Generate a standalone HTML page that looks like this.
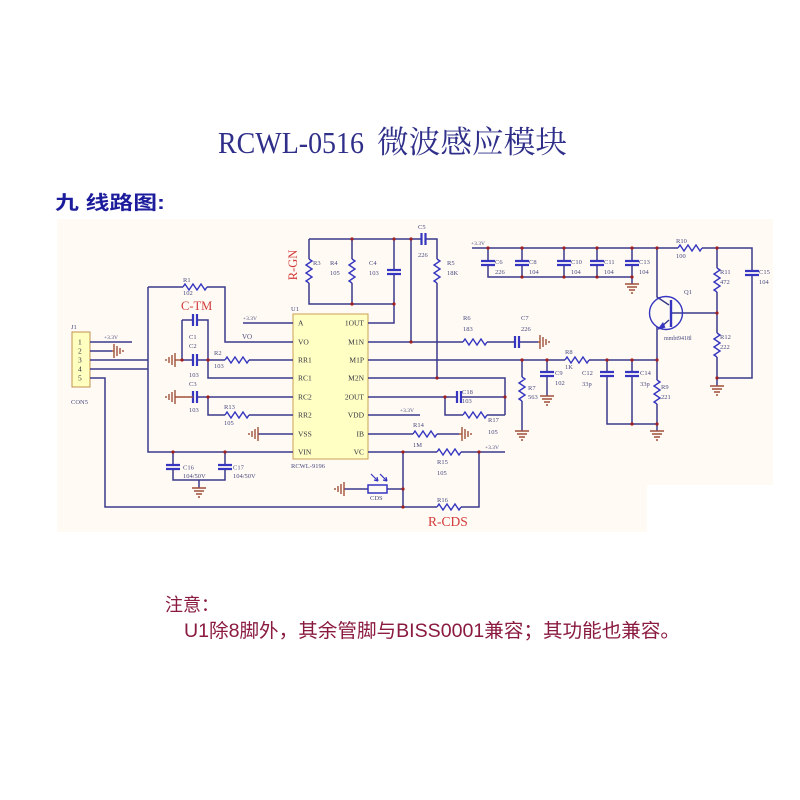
<!DOCTYPE html>
<html><head><meta charset="utf-8">
<style>
html,body{margin:0;padding:0;background:#fff;}
svg{display:block;}
.w{fill:none;stroke:#3a3a8c;stroke-width:1.5;}
.c{fill:none;stroke:#3535c0;stroke-width:1.4;}
.p{fill:none;stroke:#3535c0;stroke-width:2.2;}
.g{fill:none;stroke:#a0503a;stroke-width:1.4;}
.t{font-family:"Liberation Serif",serif;font-size:6.5px;fill:#4a4a80;}
.u{font-family:"Liberation Serif",serif;font-size:7.5px;fill:#333340;}
.r{font-family:"Liberation Serif",serif;fill:#d23a3a;}
</style></head><body>
<svg width="800" height="800" viewBox="0 0 800 800" xmlns="http://www.w3.org/2000/svg">
<defs>
<path id="rz" d="M0 0 l2 -3 l4 6 l4 -6 l4 6 l4 -6 l4 6 l2 -3"/>
<path id="gd" d="M-7 0 H7 M-5 3 H5 M-3 6 H3 M-1 9 H1"/>
</defs>
<rect width="800" height="800" fill="#fff"/>
<path d="M57 219 H773 V485 H647 V532 H57 Z" fill="#fffbf4"/>

<!-- Title -->
<text x="218" y="153" font-family="Liberation Serif, serif" font-size="31" fill="#2f2f8a" textLength="146" lengthAdjust="spacingAndGlyphs">RCWL-0516</text>
<text x="377" y="153" font-family="Liberation Serif, 'Noto Serif CJK SC', serif" font-size="31" fill="#2f2f8a" textLength="190" lengthAdjust="spacingAndGlyphs">微波感应模块</text>
<text x="55" y="209" font-family="Liberation Sans, 'Noto Sans CJK SC', sans-serif" font-size="19" font-weight="bold" fill="#1c1c9c" textLength="110" lengthAdjust="spacingAndGlyphs">九 线路图:</text>

<!-- Notes -->
<text x="165" y="611" font-family="Liberation Sans, 'Noto Sans CJK SC', sans-serif" font-size="18" fill="#8a1a40">注意：</text>
<text x="184" y="637" font-family="Liberation Sans, 'Noto Sans CJK SC', sans-serif" font-size="19" fill="#8a1a40" textLength="496" lengthAdjust="spacingAndGlyphs">U1除8脚外，其余管脚与BISS0001兼容；其功能也兼容。</text>

<!-- J1 -->
<rect x="72" y="332" width="18" height="55" fill="#ffffc0" stroke="#c09050" stroke-width="1"/>
<g class="u" font-size="7">
<text x="78" y="344.5">1</text><text x="78" y="353.5">2</text><text x="78" y="362.5">3</text><text x="78" y="371.5">4</text><text x="78" y="380.5">5</text>
</g>
<text class="t" x="71" y="329">J1</text>
<text class="t" x="71" y="404">CON5</text>

<!-- U1 -->
<rect x="293" y="314" width="75" height="145" fill="#ffffc4" stroke="#c8a050" stroke-width="1"/>
<text class="t" x="291" y="311">U1</text>
<text class="t" x="291" y="468">RCWL-9196</text>
<g class="u">
<text x="298" y="325.5">A</text><text x="298" y="344.5">VO</text><text x="298" y="362.5">RR1</text><text x="298" y="380.5">RC1</text>
<text x="298" y="399.5">RC2</text><text x="298" y="417.5">RR2</text><text x="298" y="436.5">VSS</text><text x="298" y="454.5">VIN</text>
</g>
<g class="u" text-anchor="end">
<text x="364" y="325.5">1OUT</text><text x="364" y="344.5">M1N</text><text x="364" y="362.5">M1P</text><text x="364" y="380.5">M2N</text>
<text x="364" y="399.5">2OUT</text><text x="364" y="417.5">VDD</text><text x="364" y="436.5">IB</text><text x="364" y="454.5">VC</text>
</g>

<!-- Wires -->
<g class="w">
<path d="M90 342 H132"/>
<path d="M90 351 H112"/>
<path d="M90 360 H148"/>
<path d="M90 369 H148"/>
<path d="M90 378 H105 V507 H437"/>
<path d="M461 507 H479 V452"/>
<path d="M148 287 H183 M207 287 H225 V342 H293"/>
<path d="M148 287 V452 H293"/>
<path d="M243 323 H293"/>
<path d="M182 320 H193 M197 320 H208 V378 H293"/>
<path d="M182 320 V360 H193 M197 360 H225 M249 360 H293"/>
<path d="M197 397 H293 M208 397 V415 H225 M249 415 H293"/>
<path d="M258 434 H293"/>
<path d="M173 452 V465 M173 469 V480 H225 V469 M225 465 V452"/>
<path d="M199 480 V488"/>
<path d="M368 323 H394 V274 M394 270 V239"/>
<path d="M309 239 H421.5 M425.5 239 H437 V259 M437 283 V378"/>
<path d="M309 239 V259 M309 283 V304 H394"/>
<path d="M352 239 V259 M352 283 V304"/>
<path d="M411 239 V342"/>
<path d="M368 342 H463 M487 342 H515 M519 342 H538"/>
<path d="M368 360 H565 M589 360 H657"/>
<path d="M522 360 V377 M522 401 V431"/>
<path d="M547 360 V372 M547 376 V396"/>
<path d="M607 360 V372 M607 376 V424 H657"/>
<path d="M632 360 V372 M632 376 V424"/>
<path d="M657 360 V380 M657 404 V431"/>
<path d="M368 378 H505 V415"/>
<path d="M368 397 H457 M461 397 H505"/>
<path d="M445 397 V415 H463 M487 415 H505"/>
<path d="M368 415 H420"/>
<path d="M368 434 H413 M437 434 H459"/>
<path d="M368 452 H437 M461 452 H505"/>
<path d="M403 452 V507"/>
<path d="M344 489 H368 M387 489 H403"/>
<path d="M472 248 H678 M702 248 H752 V271 M752 275 V378 H717"/>
<path d="M488 248 V261 M488 265 V277 H632 V284"/>
<path d="M522 248 V261 M522 265 V277"/>
<path d="M564 248 V261 M564 265 V277"/>
<path d="M597 248 V261 M597 265 V277"/>
<path d="M632 248 V261 M632 265 V277"/>
<path d="M717 248 V268 M717 292 V333 M717 357 V386"/>
<path d="M671 313 H717"/>
<path d="M657 248 V297 L669 305"/>
<path d="M669 320 L660 328 M657 327 V360"/>
</g>

<!-- Q1 -->
<circle cx="666" cy="313" r="16.5" class="c" stroke-width="1.7"/>
<path d="M671 300 V327" stroke="#3535c0" stroke-width="2.4"/>
<path d="M657 330 L663 322 L665.5 327.5 Z" fill="#3535c0"/>

<!-- Capacitors -->
<g class="p">
<path d="M193 314 V326 M197 314 V326"/>
<path d="M193 354 V366 M197 354 V366"/>
<path d="M193 391 V403 M197 391 V403"/>
<path d="M166 465 H180 M166 469 H180"/>
<path d="M218 465 H232 M218 469 H232"/>
<path d="M387 270 H401 M387 274 H401"/>
<path d="M421.5 233 V245 M425.5 233 V245"/>
<path d="M515 336 V348 M519 336 V348"/>
<path d="M540 372 H554 M540 376 H554"/>
<path d="M600 372 H614 M600 376 H614"/>
<path d="M625 372 H639 M625 376 H639"/>
<path d="M457 391 V403 M461 391 V403"/>
<path d="M481 261 H495 M481 265 H495"/>
<path d="M515 261 H529 M515 265 H529"/>
<path d="M557 261 H571 M557 265 H571"/>
<path d="M590 261 H604 M590 265 H604"/>
<path d="M625 261 H639 M625 265 H639"/>
<path d="M745 271 H759 M745 275 H759"/>
</g>

<!-- Resistors -->
<g class="c">
<use href="#rz" transform="translate(183,287)"/>
<use href="#rz" transform="translate(225,360)"/>
<use href="#rz" transform="translate(225,415)"/>
<use href="#rz" transform="translate(413,434)"/>
<use href="#rz" transform="translate(437,452)"/>
<use href="#rz" transform="translate(437,507)"/>
<use href="#rz" transform="translate(463,415)"/>
<use href="#rz" transform="translate(463,342)"/>
<use href="#rz" transform="translate(565,360)"/>
<use href="#rz" transform="translate(678,248)"/>
<use href="#rz" transform="translate(309,259) rotate(90)"/>
<use href="#rz" transform="translate(352,259) rotate(90)"/>
<use href="#rz" transform="translate(437,259) rotate(90)"/>
<use href="#rz" transform="translate(522,377) rotate(90)"/>
<use href="#rz" transform="translate(657,380) rotate(90)"/>
<use href="#rz" transform="translate(717,268) rotate(90)"/>
<use href="#rz" transform="translate(717,333) rotate(90)"/>
</g>

<!-- CDS -->
<rect x="368" y="485" width="19" height="8" fill="none" stroke="#3535c0" stroke-width="1.5"/>
<g stroke="#3535c0" stroke-width="1.2" fill="none">
<path d="M371 474 L378 481 M380 474 L387 481"/>
<path d="M378 481 l-4 -1 M378 481 l-1 -4 M387 481 l-4 -1 M387 481 l-1 -4"/>
</g>

<!-- Grounds -->
<g class="g">
<path d="M112 351 H114"/><use href="#gd" transform="translate(114,351) rotate(-90)"/>
<path d="M182 360 H175"/><use href="#gd" transform="translate(175,360) rotate(90)"/>
<path d="M193 397 H175"/><use href="#gd" transform="translate(175,397) rotate(90)"/>
<use href="#gd" transform="translate(258,434) rotate(90)"/>
<use href="#gd" transform="translate(199,488)"/>
<path d="M538 342 H540"/><use href="#gd" transform="translate(540,342) rotate(-90)"/>
<path d="M459 434 H462"/><use href="#gd" transform="translate(462,434) rotate(-90)"/>
<use href="#gd" transform="translate(344,489) rotate(90)"/>
<use href="#gd" transform="translate(522,431)"/>
<use href="#gd" transform="translate(547,396)"/>
<use href="#gd" transform="translate(657,431)"/>
<use href="#gd" transform="translate(632,284)"/>
<use href="#gd" transform="translate(717,386)"/>
</g>

<!-- Junctions -->
<g fill="#a02020">
<circle cx="182" cy="360" r="1.6"/><circle cx="208" cy="360" r="1.6"/><circle cx="208" cy="397" r="1.6"/>
<circle cx="173" cy="452" r="1.6"/><circle cx="225" cy="452" r="1.6"/>
<circle cx="352" cy="239" r="1.6"/><circle cx="394" cy="239" r="1.6"/><circle cx="411" cy="239" r="1.6"/>
<circle cx="352" cy="304" r="1.6"/><circle cx="394" cy="304" r="1.6"/><circle cx="411" cy="342" r="1.6"/>
<circle cx="437" cy="378" r="1.6"/><circle cx="445" cy="397" r="1.6"/><circle cx="505" cy="397" r="1.6"/>
<circle cx="403" cy="452" r="1.6"/><circle cx="479" cy="452" r="1.6"/><circle cx="403" cy="489" r="1.6"/><circle cx="403" cy="507" r="1.6"/>
<circle cx="522" cy="360" r="1.6"/><circle cx="547" cy="360" r="1.6"/><circle cx="607" cy="360" r="1.6"/><circle cx="632" cy="360" r="1.6"/><circle cx="657" cy="360" r="1.6"/>
<circle cx="632" cy="424" r="1.6"/><circle cx="657" cy="424" r="1.6"/>
<circle cx="488" cy="248" r="1.6"/><circle cx="522" cy="248" r="1.6"/><circle cx="564" cy="248" r="1.6"/><circle cx="597" cy="248" r="1.6"/><circle cx="632" cy="248" r="1.6"/><circle cx="657" cy="248" r="1.6"/><circle cx="717" cy="248" r="1.6"/>
<circle cx="522" cy="277" r="1.6"/><circle cx="564" cy="277" r="1.6"/><circle cx="597" cy="277" r="1.6"/><circle cx="632" cy="277" r="1.6"/>
<circle cx="717" cy="313" r="1.6"/><circle cx="717" cy="378" r="1.6"/>
</g>

<!-- Labels -->
<g class="t">
<text x="104" y="339" font-size="5.5">+3.3V</text>
<text x="243" y="320" font-size="5.5">+3.3V</text>
<text x="400" y="412" font-size="5.5">+3.3V</text>
<text x="485" y="449" font-size="5.5">+3.3V</text>
<text x="471" y="245" font-size="5.5">+3.3V</text>
<text x="242" y="339" font-size="7">VO</text>
<text x="183" y="282">R1</text><text x="183" y="295">102</text>
<text x="189" y="339">C1</text><text x="189" y="348">C2</text><text x="189" y="377">103</text>
<text x="214" y="355">R2</text><text x="214" y="368">103</text>
<text x="189" y="386">C3</text><text x="189" y="412">103</text>
<text x="224" y="409">R13</text><text x="224" y="425">105</text>
<text x="183" y="469.5">C16</text><text x="183" y="478">104/50V</text>
<text x="233" y="469.5">C17</text><text x="233" y="478">104/50V</text>
<text x="313" y="265">R3</text><text x="330" y="265">R4</text><text x="330" y="275">105</text>
<text x="369" y="265">C4</text><text x="369" y="275">103</text>
<text x="418" y="229">C5</text><text x="418" y="257">226</text>
<text x="447" y="265">R5</text><text x="447" y="275">18K</text>
<text x="463" y="320">R6</text><text x="463" y="331">183</text>
<text x="521" y="320">C7</text><text x="521" y="331">226</text>
<text x="565" y="354">R8</text><text x="565" y="369">1K</text>
<text x="555" y="375">C9</text><text x="555" y="385">102</text>
<text x="528" y="390">R7</text><text x="528" y="399">563</text>
<text x="582" y="375">C12</text><text x="582" y="386">33p</text>
<text x="640" y="375">C14</text><text x="640" y="386">33p</text>
<text x="661" y="389">R9</text><text x="661" y="399">221</text>
<text x="462" y="394">C18</text><text x="462" y="403">103</text>
<text x="488" y="422">R17</text><text x="488" y="434">105</text>
<text x="413" y="427">R14</text><text x="413" y="447">1M</text>
<text x="437" y="464">R15</text><text x="437" y="475">105</text>
<text x="437" y="502">R16</text>
<text x="370" y="500">CDS</text>
<text x="495" y="264">C6</text><text x="495" y="274">226</text>
<text x="529" y="264">C8</text><text x="529" y="274">104</text>
<text x="571" y="264">C10</text><text x="571" y="274">104</text>
<text x="604" y="264">C11</text><text x="604" y="274">104</text>
<text x="639" y="264">C13</text><text x="639" y="274">104</text>
<text x="676" y="243">R10</text><text x="676" y="258">100</text>
<text x="720" y="274">R11</text><text x="720" y="284">472</text>
<text x="720" y="339">R12</text><text x="720" y="349">222</text>
<text x="759" y="274">C15</text><text x="759" y="284">104</text>
<text x="684" y="294">Q1</text>
<text x="664" y="340" font-size="6">mmbt9418l</text>
</g>

<!-- Red labels -->
<text class="r" x="181" y="310" font-size="12.5">C-TM</text>
<text class="r" x="297" y="265" font-size="12.5" text-anchor="middle" transform="rotate(-90 297 265)">R-GN</text>
<text class="r" x="428" y="526" font-size="13.5">R-CDS</text>
</svg>
</body></html>
